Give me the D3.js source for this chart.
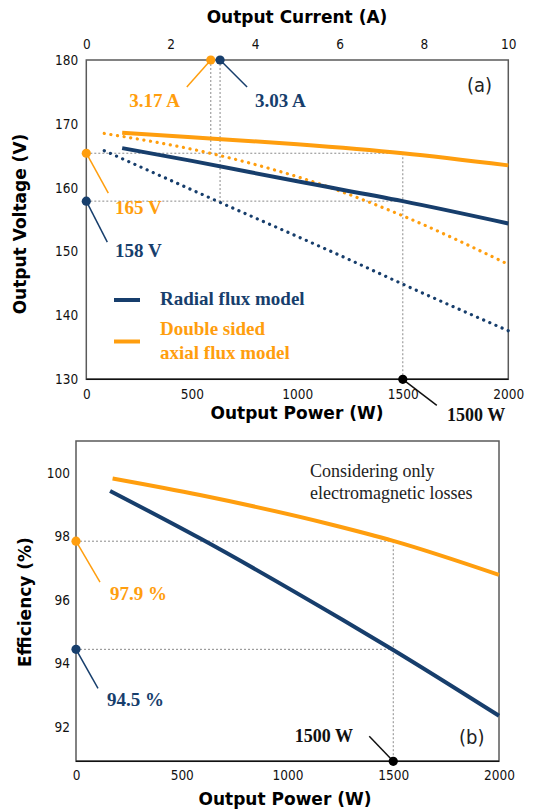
<!DOCTYPE html>
<html><head><meta charset="utf-8">
<script src="https://cdn.jsdelivr.net/npm/d3@7"></script>
<style>
body{margin:0;background:#fff;}
svg{display:block;}
.tick text{font-family:"DejaVu Sans Condensed","DejaVu Sans",sans-serif;font-size:13.5px;fill:#111;}
.title{font-family:"DejaVu Sans",Verdana,sans-serif;font-weight:bold;font-size:17px;fill:#000;}
.ser{font-family:"Liberation Serif","Times New Roman",serif;font-weight:bold;font-size:19px;}
</style></head><body>
<svg id="c" width="536" height="811"></svg>
<script>
// ---------- data ----------
const powerTicks = [0, 500, 1000, 1500, 2000];
const currentTicks = [0, 2, 4, 6, 8, 10];
const voltTicks = [130, 140, 150, 160, 170, 180];
const effTicks = [92, 94, 96, 98, 100];

// (a) output voltage vs output power (solid lines)
const radialP = [170, 500, 1000, 1500, 2000];
const radialV = [166.2, 164.2, 161.0, 157.9, 154.4];
const axialP = [170, 500, 1000, 1500, 2000];
const axialV = [168.6, 167.9, 166.8, 165.4, 163.5];
// (a) dotted lines
const radialDotP = [85, 634, 1249, 1500, 2000];
const radialDotV = [165.8, 157.7, 148.7, 144.9, 137.6];
const axialDotP = [85, 600, 1140, 1500, 2000];
const axialDotV = [168.5, 165.3, 160.2, 155.6, 148.0];

// (b) efficiency vs output power
const radialEffP = [161, 586, 1262, 1500, 2000];
const radialEff = [99.43, 97.94, 95.37, 94.43, 92.36];
const axialEffP = [173, 586, 1215, 1500, 2000];
const axialEff = [99.82, 99.3, 98.36, 97.86, 96.79];

// markers
const markPower = 1500;
const markVolt = [165.4, 157.9];       // axial, radial
const markVoltLabels = ["165 V", "158 V"];
const markCurrent = [2.95, 3.17];      // axial, radial
const markCurrentLabels = ["3.17 A", "3.03 A"];
const markEff = [97.85, 94.45];
const markEffLabels = ["97.9 %", "94.5 %"];
const legendLabels = ["Radial flux model", ["Double sided", "axial flux model"]];

const ORANGE = "#FF9E0E", BLUE = "#173E6C";

const svg = d3.select("#c");
const line = (xs, ys, sx, sy) => d3.line().curve(d3.curveMonotoneX)
  .x((d, i) => sx(xs[i])).y(d => sy(d))(ys);

// ================= Panel (a) =================
const ax = d3.scaleLinear().domain([0, 2000]).range([86.3, 508.3]);
const ax2 = d3.scaleLinear().domain([0, 10]).range([86.3, 508.3]);
const ay = d3.scaleLinear().domain([130, 180]).range([379.3, 60]);
const gA = svg.append("g");

gA.append("rect").attr("x", ax(0)).attr("y", ay(180))
  .attr("width", ax(2000) - ax(0)).attr("height", ay(130) - ay(180))
  .attr("fill", "none").attr("stroke", "#5a5a5a").attr("stroke-width", 1.5);
gA.append("line").attr("x1", ax(0)).attr("x2", ax(2000)).attr("y1", ay(130)).attr("y2", ay(130))
  .attr("stroke", "#111").attr("stroke-width", 1.5);

const xa = gA.append("g").attr("transform", `translate(0,${ay(130)})`)
  .call(d3.axisBottom(ax).tickValues(powerTicks).tickSize(0).tickPadding(10).tickFormat(d3.format("d")));
const xa2 = gA.append("g").attr("transform", `translate(0,${ay(180)})`)
  .call(d3.axisTop(ax2).tickValues(currentTicks).tickSize(0).tickPadding(11).tickFormat(d3.format("d")));
const ya = gA.append("g").attr("transform", `translate(${ax(0)},0)`)
  .call(d3.axisLeft(ay).tickValues(voltTicks).tickSize(0).tickPadding(8));
[xa, xa2, ya].forEach(g => g.select(".domain").remove());

gA.append("text").attr("class", "title").attr("x", 297).attr("y", 23).attr("text-anchor", "middle").text("Output Current (A)");
gA.append("text").attr("class", "title").attr("x", 297).attr("y", 419).attr("text-anchor", "middle").text("Output Power (W)");
gA.append("text").attr("class", "title").attr("transform", "translate(26,224) rotate(-90)").attr("text-anchor", "middle").text("Output Voltage (V)");

// guides
const guide = (g, x1, y1, x2, y2) => g.append("line").attr("x1", x1).attr("y1", y1).attr("x2", x2).attr("y2", y2)
  .attr("stroke", "#8a8a8a").attr("stroke-width", 1).attr("stroke-dasharray", "2,2");
markVolt.forEach(v => guide(gA, ax(0), ay(v), ax(markPower), ay(v)));
guide(gA, ax(markPower), ay(markVolt[0]), ax(markPower), ay(130));
markCurrent.forEach((c, i) => guide(gA, ax2(c), ay(180), ax2(c), ay(markVolt[i])));

// curves
const drawLine = (g, d, col, dotted) => g.append("path").attr("d", d).attr("fill", "none")
  .attr("stroke", col).attr("stroke-width", dotted ? 3.2 : 4)
  .attr("stroke-linecap", dotted ? "round" : "butt")
  .attr("stroke-dasharray", dotted ? "0.1,6.6" : null);
drawLine(gA, line(axialDotP, axialDotV, ax, ay), ORANGE, true);
drawLine(gA, line(radialDotP, radialDotV, ax, ay), BLUE, true);
drawLine(gA, line(axialP, axialV, ax, ay), ORANGE, false);
drawLine(gA, line(radialP, radialV, ax, ay), BLUE, false);

// markers + leaders
const cols = [ORANGE, BLUE];
const leader = (g, x1, y1, x2, y2, col) => g.append("line").attr("x1", x1).attr("y1", y1).attr("x2", x2).attr("y2", y2)
  .attr("stroke", col).attr("stroke-width", 1.5);
const dot = (g, x, y, col) => g.append("circle").attr("cx", x).attr("cy", y).attr("r", 4.6).attr("fill", col);

// voltage marks on left axis
leader(gA, ax(0), ay(markVolt[0]), ax(0) + 22, ay(markVolt[0]) + 40, ORANGE);
leader(gA, ax(0), ay(markVolt[1]), ax(0) + 21, ay(markVolt[1]) + 41, BLUE);
markVolt.forEach((v, i) => dot(gA, ax(0), ay(v), cols[i]));
gA.append("text").attr("class", "ser").attr("x", 115).attr("y", 214).attr("fill", ORANGE).text(markVoltLabels[0]);
gA.append("text").attr("class", "ser").attr("x", 115).attr("y", 257).attr("fill", BLUE).text(markVoltLabels[1]);

// current marks on top axis
leader(gA, ax2(markCurrent[0]), ay(180), ax2(markCurrent[0]) - 24, ay(180) + 27, ORANGE);
leader(gA, ax2(markCurrent[1]), ay(180), ax2(markCurrent[1]) + 27, ay(180) + 27, BLUE);
markCurrent.forEach((c, i) => dot(gA, ax2(c), ay(180), cols[i]));
gA.append("text").attr("class", "ser").attr("x", 180).attr("y", 107).attr("text-anchor", "end").attr("fill", ORANGE).text(markCurrentLabels[0]);
gA.append("text").attr("class", "ser").attr("x", 255).attr("y", 107).attr("fill", BLUE).text(markCurrentLabels[1]);

// 1500 W mark
leader(gA, ax(markPower), ay(130), ax(markPower) + 34, ay(130) + 26, "#111");
dot(gA, ax(markPower), ay(130), "#000");
gA.append("text").attr("class", "ser").style("font-size", "18px").attr("x", 447).attr("y", 421).attr("fill", "#111").text("1500 W");

gA.append("text").attr("x", 467).attr("y", 92).style("font-family", "'DejaVu Sans Condensed','DejaVu Sans',sans-serif")
  .style("font-size", "20px").attr("fill", "#222").text("(a)");

// legend
const lg = gA.append("g");
lg.append("line").attr("x1", 114).attr("x2", 140).attr("y1", 300).attr("y2", 300).attr("stroke", BLUE).attr("stroke-width", 4);
lg.append("line").attr("x1", 114).attr("x2", 140).attr("y1", 341.5).attr("y2", 341.5).attr("stroke", ORANGE).attr("stroke-width", 4);
lg.append("text").attr("class", "ser").attr("x", 160).attr("y", 305).attr("fill", BLUE).text(legendLabels[0]);
legendLabels[1].forEach((t, i) => lg.append("text").attr("class", "ser").attr("x", 160).attr("y", 335 + i * 23.5).attr("fill", ORANGE).text(t));

// ================= Panel (b) =================
const bx = d3.scaleLinear().domain([0, 2000]).range([76, 499]);
const by = d3.scaleLinear().domain([90.93, 101]).range([761.3, 441]);
const gB = svg.append("g");
gB.append("rect").attr("x", bx(0)).attr("y", by(101))
  .attr("width", bx(2000) - bx(0)).attr("height", by(90.93) - by(101))
  .attr("fill", "none").attr("stroke", "#5a5a5a").attr("stroke-width", 1.5);
gB.append("line").attr("x1", bx(0)).attr("x2", bx(2000)).attr("y1", by(90.93)).attr("y2", by(90.93))
  .attr("stroke", "#111").attr("stroke-width", 1.5);
const xb = gB.append("g").attr("transform", `translate(0,${by(90.93)})`)
  .call(d3.axisBottom(bx).tickValues(powerTicks).tickSize(0).tickPadding(9).tickFormat(d3.format("d")));
const yb = gB.append("g").attr("transform", `translate(${bx(0)},0)`)
  .call(d3.axisLeft(by).tickValues(effTicks).tickSize(0).tickPadding(6));
[xb, yb].forEach(g => g.select(".domain").remove());

gB.append("text").attr("class", "title").attr("x", 285).attr("y", 805).attr("text-anchor", "middle").text("Output Power (W)");
gB.append("text").attr("class", "title").attr("transform", "translate(31,602) rotate(-90)").attr("text-anchor", "middle").text("Efficiency (%)");

markEff.forEach(v => guide(gB, bx(0), by(v), bx(markPower), by(v)));
guide(gB, bx(markPower), by(markEff[0]), bx(markPower), by(90.93));

drawLine(gB, line(axialEffP, axialEff, bx, by), ORANGE, false);
drawLine(gB, line(radialEffP, radialEff, bx, by), BLUE, false);

leader(gB, bx(0), by(markEff[0]), bx(0) + 24, by(markEff[0]) + 41, ORANGE);
leader(gB, bx(0), by(markEff[1]), bx(0) + 22, by(markEff[1]) + 39, BLUE);
markEff.forEach((v, i) => dot(gB, bx(0), by(v), cols[i]));
gB.append("text").attr("class", "ser").attr("x", 110).attr("y", 600).attr("fill", ORANGE).text(markEffLabels[0]);
gB.append("text").attr("class", "ser").attr("x", 107).attr("y", 706).attr("fill", BLUE).text(markEffLabels[1]);

leader(gB, bx(markPower), by(90.93), bx(markPower) - 24, by(90.93) - 25, "#111");
dot(gB, bx(markPower), by(90.93), "#000");
gB.append("text").attr("class", "ser").style("font-size", "18px").attr("x", 353).attr("y", 742).attr("text-anchor", "end").attr("fill", "#111").text("1500 W");

gB.append("text").attr("x", 459).attr("y", 744).style("font-family", "'DejaVu Sans Condensed','DejaVu Sans',sans-serif")
  .style("font-size", "20px").attr("fill", "#222").text("(b)");

const note = ["Considering only", "electromagnetic losses"];
note.forEach((t, i) => gB.append("text").attr("x", 310).attr("y", 477 + i * 22)
  .style("font-family", "'Liberation Serif','Times New Roman',serif").style("font-size", "18px").attr("fill", "#222").text(t));
</script>
</body></html>
